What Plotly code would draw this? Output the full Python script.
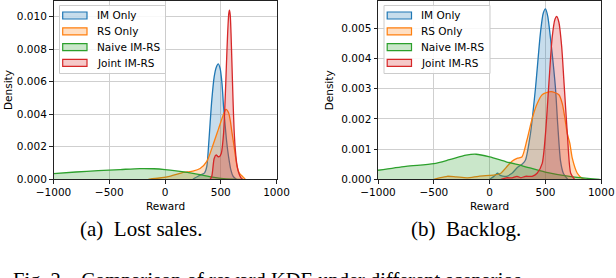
import plotly.graph_objects as go

W, H = 616, 278

# ---------------- data ----------------
series_names = ["IM Only", "RS Only", "Naive IM-RS", "Joint IM-RS"]
series_colors = ["#1f77b4", "#ff7f0e", "#2ca02c", "#d62728"]

# (a) Lost sales
ls_im_x = [250, 300, 330, 355, 375, 390, 405, 420, 441, 460, 478, 495, 511, 525, 541, 555, 570, 590, 610, 640]
ls_im_y = [0, 0.0002, 0.0003, 0.0004, 0.0008, 0.0020, 0.0035, 0.0049, 0.0063, 0.0069, 0.0071, 0.0068, 0.0059, 0.0045, 0.0032, 0.0022, 0.0014, 0.0006, 0.0002, 0]

ls_rs_x = [-150, -50, 50, 150, 200, 250, 315, 375, 435, 480, 525, 547, 570, 586, 600, 616, 630, 646, 665, 691, 720]
ls_rs_y = [0, 0.00008, 0.0002, 0.0004, 0.00045, 0.0005, 0.00066, 0.0011, 0.0022, 0.0031, 0.0040, 0.0043, 0.0041, 0.0036, 0.0029, 0.0022, 0.0015, 0.0008, 0.0004, 0.0002, 0]

ls_naive_x = [-1000, -800, -600, -400, -225, -100, 0, 100, 200, 300, 400, 500, 600, 700]
ls_naive_y = [0.00035, 0.00045, 0.00053, 0.0006, 0.00066, 0.00065, 0.0006, 0.00052, 0.00042, 0.0003, 0.00016, 0.00006, 0.00001, 0]

ls_joint_x = [405, 420, 441, 459, 475, 489, 505, 525, 540, 550, 562, 572, 578, 585, 592, 600, 610, 620, 631, 645, 661, 680, 695]
ls_joint_y = [0, 0.0002, 0.00128, 0.0015, 0.0014, 0.0014, 0.0016, 0.0028, 0.0050, 0.0069, 0.0090, 0.0102, 0.0104, 0.0101, 0.0090, 0.0072, 0.0049, 0.0030, 0.0018, 0.0009, 0.0004, 0.0001, 0]

# (b) Backlog
bl_im_x = [0, 40, 70, 100, 150, 200, 250, 290, 320, 365, 410, 455, 480, 500, 520, 550, 570, 590, 610, 635, 660, 700]
bl_im_y = [0, 0.0001, 0.0002, 0.00012, 0.0001, 0.0002, 0.0004, 0.0005, 0.00063, 0.0015, 0.0030, 0.00485, 0.0055, 0.00564, 0.0054, 0.0045, 0.0038, 0.0030, 0.0018, 0.0006, 0.0002, 0]

bl_rs_x = [-500, -450, -380, -300, -200, -100, 0, 50, 100, 150, 200, 250, 289, 334, 380, 425, 470, 550, 620, 651, 675, 696, 718, 740, 785, 830, 860]
bl_rs_y = [0, 0.00005, 0.0001, 0.00008, 0.00005, 0.0001, 0.00013, 0.00015, 0.0002, 0.0004, 0.0006, 0.0007, 0.00074, 0.0013, 0.0020, 0.0025, 0.0028, 0.0029, 0.0028, 0.0025, 0.0020, 0.0015, 0.0012, 0.0007, 0.0002, 0.00003, 0]

bl_naive_x = [-1000, -750, -500, -360, -211, -121, 0, 148, 298, 498, 746, 985]
bl_naive_y = [0.0003, 0.00043, 0.00052, 0.00065, 0.0008, 0.00083, 0.00074, 0.00058, 0.00044, 0.00024, 0.00008, 0]

bl_joint_x = [100, 150, 200, 245, 280, 320, 380, 425, 470, 500, 531, 560, 585, 601, 620, 645, 666, 696, 726, 760]
bl_joint_y = [0, 0.00005, 0.00005, 0.0001, 0.00005, 0.0001, 0.0001, 0.0002, 0.00052, 0.0015, 0.0032, 0.0047, 0.0053, 0.00539, 0.0052, 0.0044, 0.0032, 0.0015, 0.0002, 0]

x_ticks = [-1000, -500, 0, 500, 1000]
y_ticks_a = [0.000, 0.002, 0.004, 0.006, 0.008, 0.010]
y_ticks_b = [0.000, 0.001, 0.002, 0.003, 0.004, 0.005]
captions = ["(a)\u00a0 Lost sales.", "(b)\u00a0 Backlog."]
fig_caption = "Fig. 2.\u00a0\u00a0\u00a0Comparison of reward KDE under different scenarios."

# ---------------- helpers ----------------
def px(x):
    return x / W

def py(y):
    return 1 - y / H

def rgba(hex_color, a):
    h = hex_color.lstrip("#")
    r, g, b = int(h[0:2], 16), int(h[2:4], 16), int(h[4:6], 16)
    return f"rgba({r},{g},{b},{a})"

FILL_A = 0.25
SANS = "DejaVu Sans"
SERIF = "Liberation Serif"
TICK_SIZE = 10.5

fig = go.Figure()

panels = [
    ("x", "y", [(ls_im_x, ls_im_y), (ls_rs_x, ls_rs_y), (ls_naive_x, ls_naive_y), (ls_joint_x, ls_joint_y)]),
    ("x2", "y2", [(bl_im_x, bl_im_y), (bl_rs_x, bl_rs_y), (bl_naive_x, bl_naive_y), (bl_joint_x, bl_joint_y)]),
]

for xa, ya, data in panels:
    for (xs, ys), name, col in zip(data, series_names, series_colors):
        fig.add_trace(go.Scatter(
            x=xs, y=ys, xaxis=xa, yaxis=ya, name=name, mode="lines",
            line=dict(color=col, width=1.3, shape="spline", smoothing=0.7),
            fill="tozeroy", fillcolor=rgba(col, FILL_A), showlegend=False,
            hoverinfo="skip",
        ))

# figure caption, drawn in a hidden strip subplot so that its lower part is clipped at the page edge
cap_top_px = 262.0
cap_center_px = 281.5
fig.add_trace(go.Scatter(
    x=[0.0], y=[0.0], xaxis="x3", yaxis="y3", mode="text", text=[fig_caption],
    textposition="middle right", cliponaxis=True, showlegend=False, hoverinfo="skip",
    textfont=dict(family=SERIF, size=20.5, color="#000000"),
))

ax_left = [(53.5, 276.5), (378.0, 601.3)]
ax_top, ax_bottom = 1.0, 179.3

axis_common = dict(
    showline=True, linecolor="#222222", linewidth=1, mirror=True,
    showgrid=True, gridcolor="#cfcfcf", gridwidth=1,
    ticks="outside", ticklen=3.5, tickwidth=1, tickcolor="#222222",
    tickfont=dict(family=SANS, size=TICK_SIZE, color="#000000"),
    zeroline=False, automargin=False,
)

strip_h = H - cap_top_px
off = cap_center_px - H  # how far below the page bottom the text centre sits
fig.update_layout(
    xaxis3=dict(domain=[0, 1], range=[-13, W - 13], visible=False, fixedrange=True, automargin=False),
    yaxis3=dict(domain=[0, py(cap_top_px)], range=[off, off + strip_h],
                visible=False, fixedrange=True, automargin=False),
)

fig.update_layout(
    width=W, height=H,
    margin=dict(l=0, r=0, t=0, b=0, pad=0),
    paper_bgcolor="white", plot_bgcolor="rgba(0,0,0,0)",
    showlegend=False,
    xaxis=dict(domain=[px(ax_left[0][0]), px(ax_left[0][1])], range=[-1000, 1000],
               tickvals=x_ticks, ticktext=[f"{v:d}".replace("-", "\u2212") for v in x_ticks],
               anchor="y", **axis_common),
    yaxis=dict(domain=[py(ax_bottom), py(ax_top)], range=[0, 0.01097],
               tickvals=y_ticks_a, ticktext=[f"{v:.3f}" for v in y_ticks_a],
               anchor="x", **axis_common),
    xaxis2=dict(domain=[px(ax_left[1][0]), px(ax_left[1][1])], range=[-1000, 1000],
                tickvals=x_ticks, ticktext=[f"{v:d}".replace("-", "\u2212") for v in x_ticks],
                anchor="y2", **axis_common),
    yaxis2=dict(domain=[py(ax_bottom), py(ax_top)], range=[0, 0.005904],
                tickvals=y_ticks_b, ticktext=[f"{v:.3f}" for v in y_ticks_b],
                anchor="x2", **axis_common),
)

shapes = []
annotations = []

for i, (l, r) in enumerate(ax_left):
    annotations.append(dict(text="Reward", x=px((l + r) / 2), y=py(206), xref="paper", yref="paper",
                            showarrow=False, xanchor="center", yanchor="middle",
                            font=dict(family=SANS, size=TICK_SIZE, color="#000000")))
    dens_x = 8.0 if i == 0 else 329.3
    annotations.append(dict(text="Density", x=px(dens_x), y=py(90), xref="paper", yref="paper",
                            showarrow=False, textangle=-90, xanchor="center", yanchor="middle",
                            font=dict(family=SANS, size=TICK_SIZE, color="#000000")))
    annotations.append(dict(text=captions[i], x=px((l + r) / 2 - 24), y=py(228.5), xref="paper", yref="paper",
                            showarrow=False, xanchor="center", yanchor="middle",
                            font=dict(family=SERIF, size=21, color="#000000")))
    bx0, bx1 = l + 6.0, l + 112.0
    by0, by1 = 5.5, 73.5
    shapes.append(dict(type="rect", xref="paper", yref="paper", x0=px(bx0), x1=px(bx1), y0=py(by1), y1=py(by0),
                       line=dict(color="#cccccc", width=1), fillcolor="rgba(255,255,255,0.85)", layer="above"))
    item_y = [15.5, 31.3, 47.2, 62.8]
    for name, col, yy in zip(series_names, series_colors, item_y):
        shapes.append(dict(type="rect", xref="paper", yref="paper",
                           x0=px(bx0 + 3.2), x1=px(bx0 + 27.5), y0=py(yy + 3.5), y1=py(yy - 3.5),
                           line=dict(color=col, width=1.2), fillcolor=rgba(col, FILL_A), layer="above"))
        annotations.append(dict(text=name, x=px(bx0 + 35.0), y=py(yy), xref="paper", yref="paper",
                                showarrow=False, xanchor="left", yanchor="middle",
                                font=dict(family=SANS, size=TICK_SIZE, color="#000000")))

fig.update_layout(shapes=shapes, annotations=annotations)

post = ("document.documentElement.style.overflow='hidden';"
        "document.body.style.margin='0';document.body.style.overflow='hidden';"
        "var gd=document.getElementById('{plot_id}');gd.style.overflow='hidden';"
        "if(gd.parentElement){gd.parentElement.style.overflow='hidden';gd.parentElement.style.height='278px';}")

fig.write_html("out.html", config={"displayModeBar": False}, post_script=post)
